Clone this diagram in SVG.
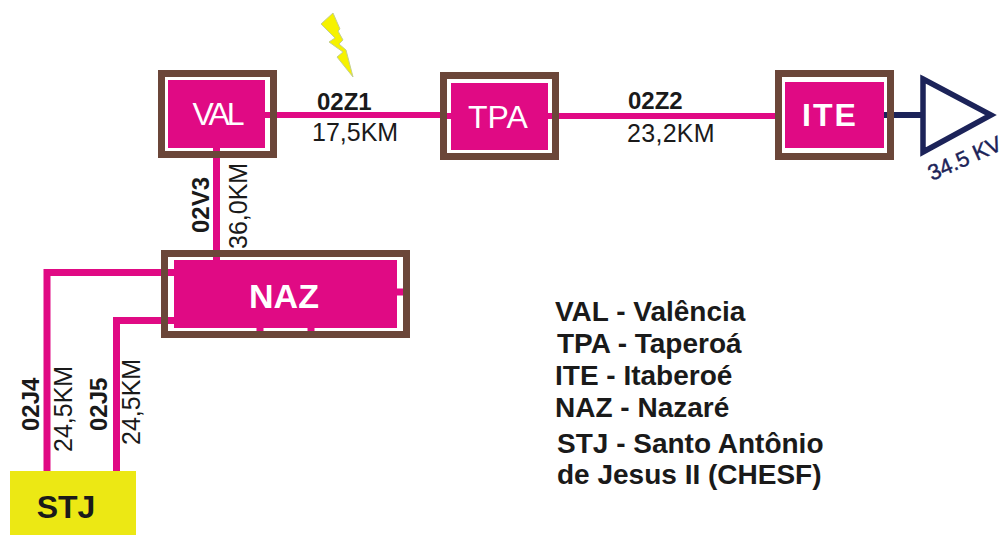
<svg xmlns="http://www.w3.org/2000/svg" width="1005" height="535" viewBox="0 0 1005 535">
<style>
text{font-family:"Liberation Sans",Arial,sans-serif;fill:#1a1a1a}
.frame{fill:none;stroke:#6b4639;stroke-width:7}
.fill{fill:#e00a84}
.name{fill:#fff;font-size:32px;text-anchor:middle}
.line{fill:none;stroke:#e00a84;stroke-width:7}
.code{font-size:24px;font-weight:bold}
.km{font-size:25px}
.leg{font-size:28px;font-weight:bold}
</style>
<rect width="1005" height="535" fill="#fff"/>
<polygon id="lightning" points="333,13 321,24 335,38 329,42 343,52 337,57 353,77 346,50 339,44 343,40 338,31 340,29" fill="#f6f200" stroke="#c4cf90" stroke-width="1"/>
<g id="connectors">
<path class="line" d="M265 115H446" style="stroke-width:6"/>
<path class="line" d="M548 116H780M440 116H451" style="stroke-width:6"/>
<path class="line" d="M216.500 148V262M174 272.500H47V471M174 320.500H116.500V471M397 292H404M260 328V335M311 328V335"/>
<path d="M884 115H922" stroke="#1c2359" stroke-width="6" fill="none"/>
<path id="source" d="M923 79L991 115L923 152Z" fill="#fff" stroke="#1c2359" stroke-width="5.500"/>
</g>
<g id="nodes">
<g id="VAL"><rect class="frame" x="161.500" y="73.500" width="112" height="81"/><rect class="fill" x="168" y="80" width="97" height="68"/><text class="name" x="217" y="125" letter-spacing="-3">VAL</text></g>
<g id="TPA"><rect class="frame" x="443.500" y="75.500" width="112" height="81"/><rect class="fill" x="451" y="83" width="97" height="67"/><text class="name" x="498" y="128">TPA</text></g>
<g id="ITE"><rect class="frame" x="778.500" y="73.500" width="112" height="83"/><rect class="fill" x="785" y="82" width="99" height="66"/><text class="name" x="830" y="126" font-weight="bold" letter-spacing="2">ITE</text></g>
<g id="NAZ"><rect class="frame" x="164.500" y="253.500" width="242" height="81"/><rect class="fill" x="174" y="260" width="223" height="68"/><text class="name" x="284" y="308" font-weight="bold" style="font-size:34px">NAZ</text></g>
<g id="STJ"><rect x="10" y="471" width="126" height="64" fill="#ece814"/><text x="66" y="518" font-size="32" font-weight="bold" text-anchor="middle">STJ</text></g>
</g>
<g id="labels">
<text class="code" x="317" y="110">02Z1</text><text class="km" x="312" y="141">17,5KM</text>
<text class="code" x="628" y="109">02Z2</text><text class="km" x="627" y="142" letter-spacing=".3">23,2KM</text>
<text class="code" transform="translate(209 233) rotate(-90)">02V3</text><text class="km" transform="translate(247 249) rotate(-90)">36,0KM</text>
<text class="code" transform="translate(39 431) rotate(-90)">02J4</text><text class="km" transform="translate(72 452) rotate(-90)">24,5KM</text>
<text class="code" transform="translate(107 431) rotate(-90)">02J5</text><text class="km" transform="translate(140 445) rotate(-90)">24,5KM</text>
<text transform="translate(932 181) rotate(-24)" font-size="22" style="fill:#1c2359;stroke:#1c2359;stroke-width:.4">34.5 KV</text>
</g>
<g id="legend">
<text class="leg" x="555" y="321">VAL - Valência</text>
<text class="leg" x="557" y="353">TPA - Taperoá</text>
<text class="leg" x="555" y="385">ITE - Itaberoé</text>
<text class="leg" x="555" y="417">NAZ - Nazaré</text>
<text class="leg" x="557" y="453">STJ - Santo Antônio</text>
<text class="leg" x="557" y="484">de Jesus II (CHESF)</text>
</g>
</svg>
